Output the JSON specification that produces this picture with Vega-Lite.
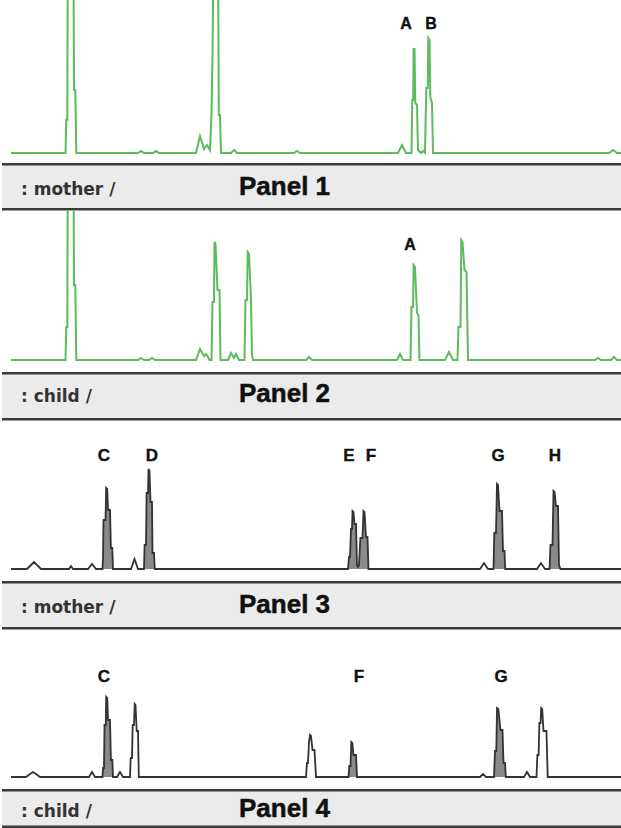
{
  "$schema": "https://vega.github.io/schema/vega-lite/v6.json",
  "padding": 0,
  "spacing": 0,
  "bounds": "flush",
  "background": "white",
  "config": {"view": {"stroke": null}, "concat": {"spacing": 0}},
  "datasets": {
    "p1": [
      {"size": 9, "rfu": 0}, {"size": 63.5, "rfu": 0}, {"size": 64.3, "rfu": 33}, {"size": 65.3, "rfu": 33}, {"size": 65.8, "rfu": 200}, {"size": 71.5, "rfu": 200}, {"size": 72, "rfu": 63}, {"size": 73.3, "rfu": 63}, {"size": 74.3, "rfu": 0},
      {"size": 136, "rfu": 0}, {"size": 139, "rfu": 2}, {"size": 142, "rfu": 0}, {"size": 151, "rfu": 0}, {"size": 154, "rfu": 2}, {"size": 157, "rfu": 0},
      {"size": 194, "rfu": 0}, {"size": 198, "rfu": 17}, {"size": 202, "rfu": 4}, {"size": 205, "rfu": 8}, {"size": 208, "rfu": 3}, {"size": 209.5, "rfu": 40}, {"size": 210.5, "rfu": 96}, {"size": 211.5, "rfu": 200}, {"size": 216, "rfu": 200}, {"size": 216.8, "rfu": 38}, {"size": 218, "rfu": 38}, {"size": 219, "rfu": 0},
      {"size": 229, "rfu": 0}, {"size": 232, "rfu": 3}, {"size": 235, "rfu": 0}, {"size": 292, "rfu": 0}, {"size": 295, "rfu": 2}, {"size": 298, "rfu": 0},
      {"size": 396, "rfu": 0}, {"size": 400, "rfu": 8}, {"size": 404, "rfu": 0},
      {"size": 409.5, "rfu": 0}, {"size": 410.3, "rfu": 53}, {"size": 411.2, "rfu": 53}, {"size": 411.6, "rfu": 104}, {"size": 412.5, "rfu": 104}, {"size": 413.3, "rfu": 50}, {"size": 415, "rfu": 48}, {"size": 416, "rfu": 3}, {"size": 419, "rfu": 0}, {"size": 421, "rfu": 2}, {"size": 423, "rfu": 0},
      {"size": 424.3, "rfu": 65}, {"size": 425.8, "rfu": 65}, {"size": 426.3, "rfu": 115}, {"size": 427.5, "rfu": 113}, {"size": 428.3, "rfu": 56}, {"size": 430, "rfu": 50}, {"size": 431, "rfu": 0},
      {"size": 607, "rfu": 0}, {"size": 611, "rfu": 3}, {"size": 615, "rfu": 0}, {"size": 621, "rfu": 0}
    ],
    "p2": [
      {"size": 9, "rfu": 0}, {"size": 63.5, "rfu": 0}, {"size": 64.3, "rfu": 33}, {"size": 65.3, "rfu": 33}, {"size": 65.8, "rfu": 200}, {"size": 71.5, "rfu": 200}, {"size": 72, "rfu": 75}, {"size": 73.3, "rfu": 75}, {"size": 74.3, "rfu": 0},
      {"size": 136, "rfu": 0}, {"size": 139, "rfu": 2}, {"size": 142, "rfu": 0}, {"size": 147, "rfu": 0}, {"size": 150, "rfu": 2}, {"size": 153, "rfu": 0},
      {"size": 194, "rfu": 0}, {"size": 198, "rfu": 11}, {"size": 202, "rfu": 4}, {"size": 204, "rfu": 6}, {"size": 206, "rfu": 3}, {"size": 207.5, "rfu": 0},
      {"size": 209.5, "rfu": 0}, {"size": 210.5, "rfu": 58}, {"size": 212, "rfu": 58}, {"size": 212.5, "rfu": 118}, {"size": 213.5, "rfu": 116}, {"size": 215.5, "rfu": 70}, {"size": 217.5, "rfu": 70}, {"size": 218.5, "rfu": 0},
      {"size": 226, "rfu": 0}, {"size": 229, "rfu": 7}, {"size": 232, "rfu": 2}, {"size": 234, "rfu": 6}, {"size": 237, "rfu": 0},
      {"size": 242.5, "rfu": 0}, {"size": 243.5, "rfu": 60}, {"size": 245, "rfu": 60}, {"size": 245.7, "rfu": 108}, {"size": 247, "rfu": 106}, {"size": 249, "rfu": 60}, {"size": 250, "rfu": 5}, {"size": 251, "rfu": 0},
      {"size": 304, "rfu": 0}, {"size": 307, "rfu": 3}, {"size": 310, "rfu": 0}, {"size": 395, "rfu": 0}, {"size": 398, "rfu": 6}, {"size": 401, "rfu": 0},
      {"size": 408.5, "rfu": 0}, {"size": 409.5, "rfu": 53}, {"size": 411, "rfu": 53}, {"size": 411.7, "rfu": 95}, {"size": 413, "rfu": 93}, {"size": 415, "rfu": 47}, {"size": 416.5, "rfu": 45}, {"size": 417.5, "rfu": 0},
      {"size": 443, "rfu": 0}, {"size": 447, "rfu": 8}, {"size": 451, "rfu": 0},
      {"size": 455.5, "rfu": 0}, {"size": 456.5, "rfu": 33}, {"size": 458.5, "rfu": 33}, {"size": 459.3, "rfu": 120}, {"size": 460.5, "rfu": 118}, {"size": 462.5, "rfu": 90}, {"size": 464.5, "rfu": 88}, {"size": 466, "rfu": 0},
      {"size": 593, "rfu": 0}, {"size": 596, "rfu": 2}, {"size": 599, "rfu": 0}, {"size": 609, "rfu": 0}, {"size": 612, "rfu": 3}, {"size": 615, "rfu": 0}, {"size": 621, "rfu": 0}
    ],
    "p3": [
      {"size": 9, "rfu": 0, "called": 0}, {"size": 25, "rfu": 0, "called": 0}, {"size": 28, "rfu": 3, "called": 0}, {"size": 32, "rfu": 7, "called": 0}, {"size": 36, "rfu": 3, "called": 0}, {"size": 39, "rfu": 0, "called": 0},
      {"size": 67, "rfu": 0, "called": 0}, {"size": 69, "rfu": 3, "called": 0}, {"size": 71, "rfu": 0, "called": 0}, {"size": 86, "rfu": 0, "called": 0}, {"size": 90, "rfu": 5, "called": 0}, {"size": 94, "rfu": 0, "called": 0},
      {"size": 100.5, "rfu": 0, "called": 1}, {"size": 101, "rfu": 10, "called": 1}, {"size": 101.5, "rfu": 49, "called": 1}, {"size": 103.5, "rfu": 49, "called": 1}, {"size": 104.2, "rfu": 81, "called": 1}, {"size": 105.2, "rfu": 80, "called": 1}, {"size": 106.1, "rfu": 59, "called": 1}, {"size": 108, "rfu": 59, "called": 1}, {"size": 108.9, "rfu": 21, "called": 1}, {"size": 110.3, "rfu": 21, "called": 1}, {"size": 111, "rfu": 0, "called": 1},
      {"size": 129, "rfu": 0, "called": 0}, {"size": 132.5, "rfu": 10, "called": 0}, {"size": 136, "rfu": 0, "called": 0},
      {"size": 142, "rfu": 0, "called": 1}, {"size": 142.6, "rfu": 24, "called": 1}, {"size": 144, "rfu": 24, "called": 1}, {"size": 144.6, "rfu": 76, "called": 1}, {"size": 146, "rfu": 76, "called": 1}, {"size": 146.5, "rfu": 100, "called": 1}, {"size": 147.5, "rfu": 98, "called": 1}, {"size": 148.5, "rfu": 67, "called": 1}, {"size": 150, "rfu": 67, "called": 1}, {"size": 150.5, "rfu": 16, "called": 1}, {"size": 152, "rfu": 16, "called": 1}, {"size": 152.8, "rfu": 0, "called": 1},
      {"size": 346, "rfu": 0, "called": 1}, {"size": 347, "rfu": 12, "called": 1}, {"size": 348, "rfu": 12, "called": 1}, {"size": 349, "rfu": 40, "called": 1}, {"size": 350, "rfu": 40, "called": 1}, {"size": 350.5, "rfu": 58, "called": 1}, {"size": 351.5, "rfu": 57, "called": 1}, {"size": 352.5, "rfu": 45, "called": 1}, {"size": 354, "rfu": 45, "called": 1}, {"size": 355, "rfu": 4, "called": 1}, {"size": 356, "rfu": 2, "called": 1}, {"size": 357, "rfu": 4, "called": 1}, {"size": 358.4, "rfu": 31, "called": 1}, {"size": 360.5, "rfu": 31, "called": 1}, {"size": 361.5, "rfu": 58, "called": 1}, {"size": 362.5, "rfu": 57, "called": 1}, {"size": 364, "rfu": 32, "called": 1}, {"size": 365.5, "rfu": 32, "called": 1}, {"size": 366.5, "rfu": 0, "called": 1},
      {"size": 478, "rfu": 0, "called": 0}, {"size": 482, "rfu": 6, "called": 0}, {"size": 486, "rfu": 0, "called": 0},
      {"size": 491.5, "rfu": 0, "called": 1}, {"size": 492.3, "rfu": 36, "called": 1}, {"size": 494, "rfu": 36, "called": 1}, {"size": 495, "rfu": 85, "called": 1}, {"size": 496, "rfu": 84, "called": 1}, {"size": 497.5, "rfu": 58, "called": 1}, {"size": 500, "rfu": 58, "called": 1}, {"size": 501, "rfu": 18, "called": 1}, {"size": 502.5, "rfu": 18, "called": 1}, {"size": 503.2, "rfu": 0, "called": 1},
      {"size": 535, "rfu": 0, "called": 0}, {"size": 539, "rfu": 6, "called": 0}, {"size": 543, "rfu": 0, "called": 0},
      {"size": 547.5, "rfu": 0, "called": 1}, {"size": 548.5, "rfu": 24, "called": 1}, {"size": 550.5, "rfu": 24, "called": 1}, {"size": 551.5, "rfu": 78, "called": 1}, {"size": 552.5, "rfu": 77, "called": 1}, {"size": 554, "rfu": 63, "called": 1}, {"size": 556, "rfu": 63, "called": 1}, {"size": 557, "rfu": 4, "called": 1}, {"size": 558.5, "rfu": 0, "called": 1},
      {"size": 621, "rfu": 0, "called": 0}
    ],
    "p4": [
      {"size": 9, "rfu": 0, "called": 0}, {"size": 24, "rfu": 0, "called": 0}, {"size": 28, "rfu": 3, "called": 0}, {"size": 31, "rfu": 5, "called": 0}, {"size": 34, "rfu": 3, "called": 0}, {"size": 38, "rfu": 0, "called": 0},
      {"size": 87, "rfu": 0, "called": 0}, {"size": 90, "rfu": 5, "called": 0}, {"size": 93, "rfu": 0, "called": 0},
      {"size": 100.5, "rfu": 0, "called": 1}, {"size": 101, "rfu": 9, "called": 1}, {"size": 102, "rfu": 9, "called": 1}, {"size": 102.5, "rfu": 52, "called": 1}, {"size": 103.8, "rfu": 52, "called": 1}, {"size": 104.2, "rfu": 80, "called": 1}, {"size": 105.2, "rfu": 79, "called": 1}, {"size": 106, "rfu": 57, "called": 1}, {"size": 108, "rfu": 57, "called": 1}, {"size": 108.9, "rfu": 17, "called": 1}, {"size": 110.3, "rfu": 17, "called": 1}, {"size": 111, "rfu": 0, "called": 1},
      {"size": 115, "rfu": 0, "called": 0}, {"size": 118, "rfu": 5, "called": 0}, {"size": 121, "rfu": 0, "called": 0},
      {"size": 128, "rfu": 0, "called": 0}, {"size": 128.7, "rfu": 19, "called": 0}, {"size": 130, "rfu": 19, "called": 0}, {"size": 130.7, "rfu": 52, "called": 0}, {"size": 132, "rfu": 52, "called": 0}, {"size": 132.7, "rfu": 73, "called": 0}, {"size": 133.5, "rfu": 72, "called": 0}, {"size": 134.7, "rfu": 46, "called": 0}, {"size": 136, "rfu": 46, "called": 0}, {"size": 136.8, "rfu": 0, "called": 0},
      {"size": 304, "rfu": 0, "called": 0}, {"size": 305, "rfu": 14, "called": 0}, {"size": 306, "rfu": 14, "called": 0}, {"size": 307, "rfu": 35, "called": 0}, {"size": 308, "rfu": 42, "called": 0}, {"size": 309, "rfu": 41, "called": 0}, {"size": 310.5, "rfu": 27, "called": 0}, {"size": 312.5, "rfu": 27, "called": 0}, {"size": 314, "rfu": 0, "called": 0},
      {"size": 346.5, "rfu": 0, "called": 1}, {"size": 347.3, "rfu": 11, "called": 1}, {"size": 348.5, "rfu": 11, "called": 1}, {"size": 349.3, "rfu": 35, "called": 1}, {"size": 350.3, "rfu": 34, "called": 1}, {"size": 351.5, "rfu": 22, "called": 1}, {"size": 354, "rfu": 22, "called": 1}, {"size": 355, "rfu": 0, "called": 1},
      {"size": 478, "rfu": 0, "called": 0}, {"size": 481, "rfu": 3, "called": 0}, {"size": 484, "rfu": 0, "called": 0},
      {"size": 492, "rfu": 0, "called": 1}, {"size": 493, "rfu": 26, "called": 1}, {"size": 494.3, "rfu": 26, "called": 1}, {"size": 495, "rfu": 69, "called": 1}, {"size": 496.3, "rfu": 68, "called": 1}, {"size": 498.5, "rfu": 47, "called": 1}, {"size": 500.5, "rfu": 47, "called": 1}, {"size": 501.5, "rfu": 14, "called": 1}, {"size": 503, "rfu": 14, "called": 1}, {"size": 503.8, "rfu": 0, "called": 1},
      {"size": 522, "rfu": 0, "called": 0}, {"size": 525, "rfu": 5, "called": 0}, {"size": 528, "rfu": 0, "called": 0},
      {"size": 534.5, "rfu": 0, "called": 0}, {"size": 535.4, "rfu": 22, "called": 0}, {"size": 536.6, "rfu": 22, "called": 0}, {"size": 537.4, "rfu": 54, "called": 0}, {"size": 538.6, "rfu": 54, "called": 0}, {"size": 539.2, "rfu": 69, "called": 0}, {"size": 540.2, "rfu": 68, "called": 0}, {"size": 541.5, "rfu": 46, "called": 0}, {"size": 544.5, "rfu": 46, "called": 0}, {"size": 545.7, "rfu": 0, "called": 0},
      {"size": 621, "rfu": 0, "called": 0}
    ],
    "labels": [
      {"panel": 1, "allele": "A", "size": 404, "rfu": 124},
      {"panel": 1, "allele": "B", "size": 429, "rfu": 124},
      {"panel": 2, "allele": "A", "size": 408, "rfu": 110},
      {"panel": 3, "allele": "C", "size": 102, "rfu": 108},
      {"panel": 3, "allele": "D", "size": 150, "rfu": 108},
      {"panel": 3, "allele": "E", "size": 347, "rfu": 108},
      {"panel": 3, "allele": "F", "size": 369, "rfu": 108},
      {"panel": 3, "allele": "G", "size": 496, "rfu": 108},
      {"panel": 3, "allele": "H", "size": 553, "rfu": 108},
      {"panel": 4, "allele": "C", "size": 102, "rfu": 95},
      {"panel": 4, "allele": "F", "size": 357, "rfu": 95},
      {"panel": 4, "allele": "G", "size": 499, "rfu": 95}
    ],
    "bars": [
      {"panel": 1, "sample": ": mother /", "title": "Panel 1"},
      {"panel": 2, "sample": ": child /", "title": "Panel 2"},
      {"panel": 3, "sample": ": mother /", "title": "Panel 3"},
      {"panel": 4, "sample": ": child /", "title": "Panel 4"}
    ]
  },
  "vconcat": [
    {
      "width": 621, "height": 163,
      "layer": [
        {"data": {"name": "p1"},
         "mark": {"type": "line", "color": "#5cbb5c", "strokeWidth": 2, "clip": true},
         "encoding": {
           "x": {"field": "size", "type": "quantitative", "scale": {"domain": [0, 621], "nice": false, "zero": false}, "axis": null},
           "y": {"field": "rfu", "type": "quantitative", "scale": {"domain": [-10, 153], "nice": false, "zero": false}, "axis": null}}},
        {"data": {"name": "labels"}, "transform": [{"filter": "datum.panel == 1"}],
         "mark": {"type": "text", "font": "Liberation Sans", "fontWeight": "bold", "fontSize": 16, "color": "#111", "stroke": "#111", "strokeWidth": 0.4, "align": "center", "baseline": "alphabetic"},
         "encoding": {"x": {"field": "size", "type": "quantitative"}, "y": {"field": "rfu", "type": "quantitative"}, "text": {"field": "allele"}}}
      ]
    },
    {
      "width": 621, "height": 47,
      "view": {"fill": "#ebebeb", "stroke": null},
      "data": {"name": "bars"},
      "transform": [{"filter": "datum.panel == 1"}],
      "encoding": {"x": {"datum": 19, "type": "quantitative", "scale": {"domain": [0, 621], "nice": false, "zero": false}, "axis": null}},
      "layer": [
        {"mark": {"type": "rule", "color": "#3a3a3a", "strokeWidth": 2.5}, "encoding": {"x": null, "y": {"datum": 45.8, "type": "quantitative", "scale": {"domain": [0, 47], "nice": false, "zero": false}, "axis": null}}},
        {"mark": {"type": "rule", "color": "#3a3a3a", "strokeWidth": 2.5}, "encoding": {"x": null, "y": {"datum": 0.8, "type": "quantitative"}}},
        {"mark": {"type": "text", "font": "DejaVu Sans", "fontSize": 17, "fontWeight": "bold", "color": "#333", "align": "left", "baseline": "alphabetic"},
         "encoding": {"y": {"datum": 15, "type": "quantitative"}, "text": {"field": "sample"}}},
        {"mark": {"type": "text", "font": "Liberation Sans", "fontSize": 26, "fontWeight": "bold", "color": "#111", "stroke": "#111", "strokeWidth": 0.5, "align": "left", "baseline": "alphabetic"},
         "encoding": {"x": {"datum": 237, "type": "quantitative"}, "y": {"datum": 15, "type": "quantitative"}, "text": {"field": "title"}}}
      ]
    },
    {
      "width": 621, "height": 162,
      "layer": [
        {"data": {"name": "p2"},
         "mark": {"type": "line", "color": "#5cbb5c", "strokeWidth": 2, "clip": true},
         "encoding": {
           "x": {"field": "size", "type": "quantitative", "scale": {"domain": [0, 621], "nice": false, "zero": false}, "axis": null},
           "y": {"field": "rfu", "type": "quantitative", "scale": {"domain": [-12, 150], "nice": false, "zero": false}, "axis": null}}},
        {"data": {"name": "labels"}, "transform": [{"filter": "datum.panel == 2"}],
         "mark": {"type": "text", "font": "Liberation Sans", "fontWeight": "bold", "fontSize": 16, "color": "#111", "stroke": "#111", "strokeWidth": 0.4, "align": "center", "baseline": "alphabetic"},
         "encoding": {"x": {"field": "size", "type": "quantitative"}, "y": {"field": "rfu", "type": "quantitative"}, "text": {"field": "allele"}}}
      ]
    },
    {
      "width": 621, "height": 48,
      "view": {"fill": "#ebebeb", "stroke": null},
      "data": {"name": "bars"},
      "transform": [{"filter": "datum.panel == 2"}],
      "encoding": {"x": {"datum": 19, "type": "quantitative", "scale": {"domain": [0, 621], "nice": false, "zero": false}, "axis": null}},
      "layer": [
        {"mark": {"type": "rule", "color": "#3a3a3a", "strokeWidth": 2.5}, "encoding": {"x": null, "y": {"datum": 46.8, "type": "quantitative", "scale": {"domain": [0, 48], "nice": false, "zero": false}, "axis": null}}},
        {"mark": {"type": "rule", "color": "#3a3a3a", "strokeWidth": 2.5}, "encoding": {"x": null, "y": {"datum": 0.8, "type": "quantitative"}}},
        {"mark": {"type": "text", "font": "DejaVu Sans", "fontSize": 17, "fontWeight": "bold", "color": "#333", "align": "left", "baseline": "alphabetic"},
         "encoding": {"y": {"datum": 18, "type": "quantitative"}, "text": {"field": "sample"}}},
        {"mark": {"type": "text", "font": "Liberation Sans", "fontSize": 26, "fontWeight": "bold", "color": "#111", "stroke": "#111", "strokeWidth": 0.5, "align": "left", "baseline": "alphabetic"},
         "encoding": {"x": {"datum": 237, "type": "quantitative"}, "y": {"datum": 18, "type": "quantitative"}, "text": {"field": "title"}}}
      ]
    },
    {
      "width": 621, "height": 161,
      "layer": [
        {"data": {"name": "p3"}, "transform": [{"filter": "datum.called == 1"}],
         "mark": {"type": "area", "color": "#8a8a8a", "clip": true},
         "encoding": {
           "x": {"field": "size", "type": "quantitative", "scale": {"domain": [0, 621], "nice": false, "zero": false}, "axis": null},
           "y": {"field": "rfu", "type": "quantitative", "scale": {"domain": [-12, 149], "nice": false, "zero": false}, "axis": null},
           "y2": {"datum": 0}}},
        {"data": {"name": "p3"},
         "mark": {"type": "line", "color": "#333333", "strokeWidth": 1.8, "clip": true},
         "encoding": {"x": {"field": "size", "type": "quantitative"}, "y": {"field": "rfu", "type": "quantitative"}}},
        {"data": {"name": "labels"}, "transform": [{"filter": "datum.panel == 3"}],
         "mark": {"type": "text", "font": "Liberation Sans", "fontWeight": "bold", "fontSize": 17, "color": "#111", "stroke": "#111", "strokeWidth": 0.4, "align": "center", "baseline": "alphabetic"},
         "encoding": {"x": {"field": "size", "type": "quantitative"}, "y": {"field": "rfu", "type": "quantitative"}, "text": {"field": "allele"}}}
      ]
    },
    {
      "width": 621, "height": 48,
      "view": {"fill": "#ebebeb", "stroke": null},
      "data": {"name": "bars"},
      "transform": [{"filter": "datum.panel == 3"}],
      "encoding": {"x": {"datum": 19, "type": "quantitative", "scale": {"domain": [0, 621], "nice": false, "zero": false}, "axis": null}},
      "layer": [
        {"mark": {"type": "rule", "color": "#3a3a3a", "strokeWidth": 2.5}, "encoding": {"x": null, "y": {"datum": 46.8, "type": "quantitative", "scale": {"domain": [0, 48], "nice": false, "zero": false}, "axis": null}}},
        {"mark": {"type": "rule", "color": "#3a3a3a", "strokeWidth": 2.5}, "encoding": {"x": null, "y": {"datum": 0.8, "type": "quantitative"}}},
        {"mark": {"type": "text", "font": "DejaVu Sans", "fontSize": 17, "fontWeight": "bold", "color": "#333", "align": "left", "baseline": "alphabetic"},
         "encoding": {"y": {"datum": 16, "type": "quantitative"}, "text": {"field": "sample"}}},
        {"mark": {"type": "text", "font": "Liberation Sans", "fontSize": 26, "fontWeight": "bold", "color": "#111", "stroke": "#111", "strokeWidth": 0.5, "align": "left", "baseline": "alphabetic"},
         "encoding": {"x": {"datum": 237, "type": "quantitative"}, "y": {"datum": 16, "type": "quantitative"}, "text": {"field": "title"}}}
      ]
    },
    {
      "width": 621, "height": 160,
      "layer": [
        {"data": {"name": "p4"}, "transform": [{"filter": "datum.called == 1"}],
         "mark": {"type": "area", "color": "#8a8a8a", "clip": true},
         "encoding": {
           "x": {"field": "size", "type": "quantitative", "scale": {"domain": [0, 621], "nice": false, "zero": false}, "axis": null},
           "y": {"field": "rfu", "type": "quantitative", "scale": {"domain": [-12, 148], "nice": false, "zero": false}, "axis": null},
           "y2": {"datum": 0}}},
        {"data": {"name": "p4"},
         "mark": {"type": "line", "color": "#333333", "strokeWidth": 1.8, "clip": true},
         "encoding": {"x": {"field": "size", "type": "quantitative"}, "y": {"field": "rfu", "type": "quantitative"}}},
        {"data": {"name": "labels"}, "transform": [{"filter": "datum.panel == 4"}],
         "mark": {"type": "text", "font": "Liberation Sans", "fontWeight": "bold", "fontSize": 17, "color": "#111", "stroke": "#111", "strokeWidth": 0.4, "align": "center", "baseline": "alphabetic"},
         "encoding": {"x": {"field": "size", "type": "quantitative"}, "y": {"field": "rfu", "type": "quantitative"}, "text": {"field": "allele"}}}
      ]
    },
    {
      "width": 621, "height": 39,
      "view": {"fill": "#ebebeb", "stroke": null},
      "data": {"name": "bars"},
      "transform": [{"filter": "datum.panel == 4"}],
      "encoding": {"x": {"datum": 19, "type": "quantitative", "scale": {"domain": [0, 621], "nice": false, "zero": false}, "axis": null}},
      "layer": [
        {"mark": {"type": "rule", "color": "#3a3a3a", "strokeWidth": 2.5}, "encoding": {"x": null, "y": {"datum": 37.8, "type": "quantitative", "scale": {"domain": [0, 39], "nice": false, "zero": false}, "axis": null}}},
        {"mark": {"type": "rule", "color": "#3a3a3a", "strokeWidth": 2.5}, "encoding": {"x": null, "y": {"datum": 1.2, "type": "quantitative"}}},
        {"mark": {"type": "text", "font": "DejaVu Sans", "fontSize": 17, "fontWeight": "bold", "color": "#333", "align": "left", "baseline": "alphabetic"},
         "encoding": {"y": {"datum": 11, "type": "quantitative"}, "text": {"field": "sample"}}},
        {"mark": {"type": "text", "font": "Liberation Sans", "fontSize": 26, "fontWeight": "bold", "color": "#111", "stroke": "#111", "strokeWidth": 0.5, "align": "left", "baseline": "alphabetic"},
         "encoding": {"x": {"datum": 237, "type": "quantitative"}, "y": {"datum": 11, "type": "quantitative"}, "text": {"field": "title"}}}
      ]
    }
  ]
}
